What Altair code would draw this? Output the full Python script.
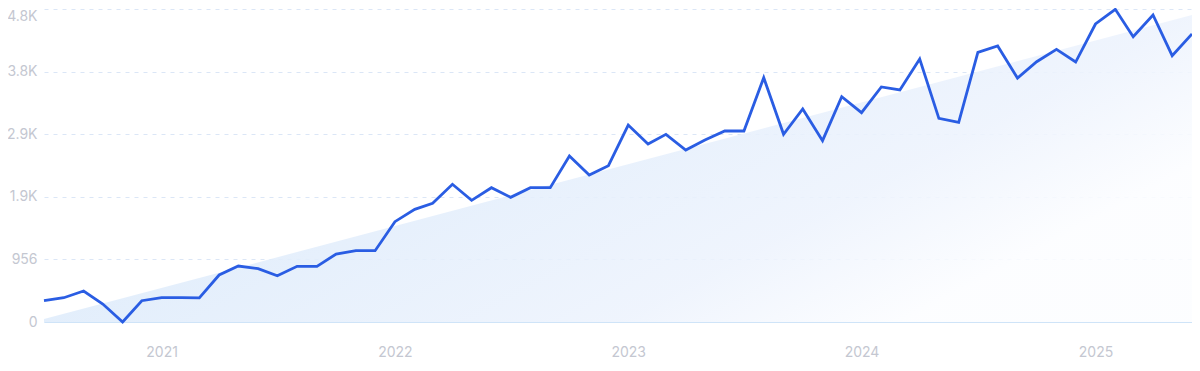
import altair as alt
import pandas as pd

start_month = "2020-07-01"
n_months = 60
values = [325, 371, 473, 275, 0, 325, 371, 371, 368, 718,
          855, 814, 707, 850, 850, 1038, 1089, 1089, 1532, 1721,
          1813, 2103, 1858, 2051, 1904, 2051, 2051, 2535, 2245, 2387,
          3008, 2718, 2866, 2627, 2779, 2917, 2917, 3731, 2866, 3253,
          2769, 3441, 3197, 3589, 3543, 4016, 3110, 3049, 4118, 4215,
          3726, 3975, 4164, 3970, 4551, 4775, 4357, 4688, 4067, 4398]
trend_values = [45, 4690]
y_ticks = [0, 956, 1912, 2868, 3824, 4780]

dates = pd.date_range(start_month, periods=n_months, freq="MS")
df = pd.DataFrame({"date": dates, "value": values})
trend_df = pd.DataFrame({"date": [dates[0], dates[-1]], "value": trend_values})

x_scale = alt.Scale(domain=[dates[0].isoformat(), dates[-1].isoformat()], nice=False)
y_scale = alt.Scale(domain=[0, 4780], nice=False)

label_color = "#c4c7d1"
font = "Inter"

x_axis = alt.Axis(
    title=None, format="%Y", tickCount={"interval": "year", "step": 1},
    grid=False, ticks=False, domain=True, domainColor="#cfe4f8", domainWidth=1,
    labelColor=label_color, labelFont=font, labelFontSize=14, labelPadding=23,
)
y_axis = alt.Axis(
    title=None, values=y_ticks, grid=True, gridColor="#dbe6f6", gridDash=[4, 5],
    gridWidth=1, ticks=False, domain=False,
    labelColor=label_color, labelFont=font, labelFontSize=14, labelPadding=7,
    labelBaseline="middle",
    labelOffset={"condition": {"test": "datum.value >= 4780", "value": 7}, "value": 0},
    labelExpr="datum.value == 0 ? '0' : (datum.value < 1000 ? format(datum.value, 'd') : format(datum.value / 1000, '.1f') + 'K')",
)

gradient = alt.Gradient(
    gradient="linear", x1=0, y1=0, x2=1, y2=0.5,
    stops=[
        alt.GradientStop(color="#d2e4f9", offset=0),
        alt.GradientStop(color="#dfecfb", offset=0.4),
        alt.GradientStop(color="#edf3fd", offset=0.8),
        alt.GradientStop(color="#fcfdff", offset=1),
    ],
)

area = alt.Chart(trend_df).mark_area(color=gradient, opacity=0.88, interpolate="linear").encode(
    x=alt.X("date:T", scale=x_scale, axis=x_axis),
    y=alt.Y("value:Q", scale=y_scale, axis=y_axis),
)

line = alt.Chart(df).mark_line(color="#2a5de3", strokeWidth=2.8, interpolate="linear").encode(
    x=alt.X("date:T", scale=x_scale),
    y=alt.Y("value:Q", scale=y_scale),
)

chart = alt.layer(area, line).properties(
    width=1148, height=313,
    background="white",
    autosize=alt.AutoSizeParams(type="none"),
    padding={"left": 36, "top": 1, "right": 0, "bottom": 40},
).configure_view(stroke=None, strokeWidth=0)

chart.save("out.html", embed_options={"renderer": "svg", "actions": False})
